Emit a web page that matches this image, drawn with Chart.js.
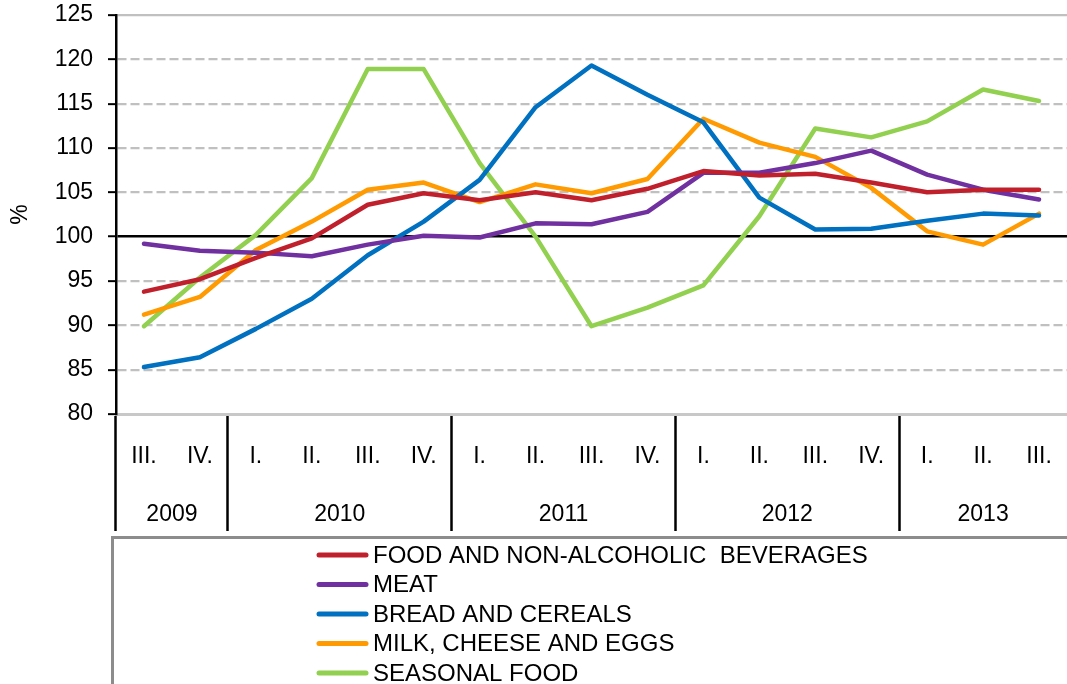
<!DOCTYPE html>
<html><head><meta charset="utf-8">
<script src="https://cdn.jsdelivr.net/npm/chart.js@4"></script>
<style>html,body{margin:0;padding:0;background:#fff;overflow:hidden;}</style>
</head><body>
<canvas id="c" width="1067" height="684"></canvas>
<script>
// ---- data ----
const quarters = ['III.','IV.','I.','II.','III.','IV.','I.','II.','III.','IV.','I.','II.','III.','IV.','I.','II.','III.'];
const years = ['2009','2010','2011','2012','2013'];
const yearSpans = [2,4,4,4,3];
const seriesNames = ['FOOD AND NON-ALCOHOLIC  BEVERAGES','MEAT','BREAD AND CEREALS','MILK, CHEESE AND EGGS','SEASONAL FOOD'];
const food     = [93.8, 95.2, 97.6, 99.8, 103.6, 104.9, 104.1, 105.0, 104.1, 105.4, 107.4, 106.9, 107.1, 106.1, 105.0, 105.3, 105.3];
const meat     = [99.2, 98.4, 98.2, 97.8, 99.1, 100.1, 99.9, 101.5, 101.4, 102.8, 107.2, 107.2, 108.3, 109.7, 107.0, 105.3, 104.2];
const bread    = [85.3, 86.4, 89.6, 93.0, 97.9, 101.7, 106.4, 114.6, 119.3, 116.0, 112.9, 104.4, 100.8, 100.9, 101.8, 102.6, 102.4];
const milk     = [91.2, 93.2, 98.5, 101.7, 105.3, 106.1, 103.9, 105.9, 104.9, 106.5, 113.3, 110.6, 109.0, 105.5, 100.6, 99.1, 102.6];
const seasonal = [89.9, 95.4, 100.2, 106.6, 118.9, 118.9, 108.3, 100.0, 89.9, 92.0, 94.5, 102.3, 112.2, 111.2, 113.0, 116.6, 115.3];
const colors = ['#C0202C','#7030A0','#0070C0','#FF9A00','#92D050'];
const yMin = 80, yMax = 125, yStep = 5;

// group boundaries / centers derived from spans (category indices)
const bounds = []; const yearCenters = [];
{ let s = 0; yearSpans.forEach(n => { bounds.push(s); yearCenters.push(s + (n - 1) / 2); s += n; }); }

const FONT = '"Liberation Sans", Arial, sans-serif';

const legendPlugin = {
  id: 'boxLegend',
  afterDraw(chart) {
    const ctx = chart.ctx;
    ctx.save();
    ctx.strokeStyle = '#8C8C8C';
    ctx.lineWidth = 3;
    ctx.beginPath();
    ctx.moveTo(112.5, 700); ctx.lineTo(112.5, 537.5); ctx.lineTo(1080, 537.5);
    ctx.stroke();
    ctx.font = '24px ' + FONT;
    ctx.textBaseline = 'middle';
    ctx.fillStyle = '#000';
    chart.data.datasets.forEach((ds, i) => {
      const y = 555 + i * 29.5;
      ctx.strokeStyle = ds.borderColor;
      ctx.lineWidth = 5;
      ctx.lineCap = 'round';
      ctx.beginPath(); ctx.moveTo(319, y); ctx.lineTo(366, y); ctx.stroke();
      ctx.fillText(ds.label, 373, y + 1);
    });
    ctx.restore();
  }
};

const seriesData = [food, meat, bread, milk, seasonal];
new Chart(document.getElementById('c'), {
  type: 'line',
  data: {
    labels: quarters,
    datasets: seriesData.map((d, i) => ({
      label: seriesNames[i], data: d, xAxisID: 'x', yAxisID: 'y',
      borderColor: colors[i], backgroundColor: colors[i],
      borderWidth: 4.5, pointRadius: 0, tension: 0,
      borderJoinStyle: 'round', borderCapStyle: 'round', fill: false
    }))
  },
  options: {
    responsive: false, animation: false, devicePixelRatio: 1,
    layout: { padding: { top: 15, bottom: 144, left: 0, right: 0 } },
    plugins: { legend: { display: false }, tooltip: { enabled: false } },
    scales: {
      x: {
        type: 'category', offset: true, weight: 0,
        grid: {
          display: true, drawOnChartArea: false, drawTicks: true, offset: true,
          tickLength: 117, tickWidth: 2.5, lineWidth: 1, color: 'rgba(0,0,0,0)',
          tickColor: c => (c.index !== undefined && bounds.includes(c.index)) ? '#000' : 'rgba(0,0,0,0)'
        },
        border: { display: true, color: '#C8C8C8', width: 3 },
        ticks: { autoSkip: false, maxRotation: 0, minRotation: 0, color: '#000', font: { family: FONT, size: 23 }, padding: -88 },
        afterFit: s => { s.height = 70; s.paddingLeft = 0; s.paddingRight = 0; }
      },
      x2: {
        type: 'linear', position: 'bottom', weight: 1, min: -0.5, max: 16.5,
        afterBuildTicks: s => { s.ticks = yearCenters.map(v => ({ value: v })); },
        ticks: { autoSkip: false, maxRotation: 0, minRotation: 0, color: '#000', font: { family: FONT, size: 23 }, padding: 17,
                 callback: (v, i) => years[i] },
        grid: { display: false, drawTicks: false },
        border: { display: false },
        afterFit: s => { s.height = 56; s.paddingLeft = 0; s.paddingRight = 0; }
      },
      y: {
        min: yMin, max: yMax,
        ticks: { stepSize: yStep, color: '#000', font: { family: FONT, size: 23 }, padding: 15 },
        grid: {
          color: c => (c.tick && c.tick.value === 100) ? '#000' : '#C0C0C0',
          lineWidth: c => (c.tick && c.tick.value === 100) ? 2.5 : 2.3,
          tickColor: '#000', tickLength: 8, tickWidth: 2, tickBorderDash: []
        },
        border: { display: true, color: '#000', width: 2.5,
                  dash: c => (c.tick && ![80, 100, 125].includes(c.tick.value)) ? [9, 4] : [] },
        title: { display: true, text: '%', color: '#000', font: { family: FONT, size: 23 }, padding: { top: 7, bottom: 0 } },
        afterFit: s => { s.width = 116; s.paddingTop = 0; s.paddingBottom = 0; }
      }
    }
  },
  plugins: [legendPlugin]
});
</script>
</body></html>
